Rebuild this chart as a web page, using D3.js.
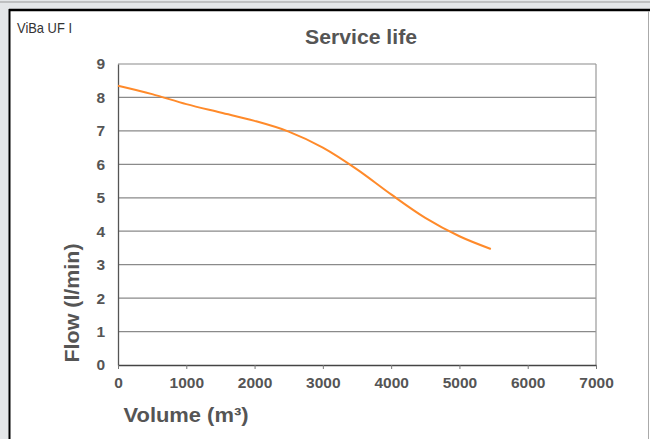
<!DOCTYPE html>
<html>
<head>
<meta charset="utf-8">
<script src="https://cdn.jsdelivr.net/npm/d3@7"></script>
<style>
  body { margin: 0; background: #fff; }
  svg { display: block; }
</style>
</head>
<body>
<svg id="chart" width="650" height="439"></svg>
<script>
// values
const volume = [0, 500, 1000, 1500, 2000, 2500, 3000, 3500, 4000, 4500, 5000, 5460];
const flow = [8.35, 8.1, 7.8, 7.55, 7.3, 6.98, 6.5, 5.85, 5.1, 4.4, 3.85, 3.47];
const xTicks = [0, 1000, 2000, 3000, 4000, 5000, 6000, 7000];
const yTicks = [0, 1, 2, 3, 4, 5, 6, 7, 8, 9];

const svg = d3.select("#chart");
const font = "Liberation Sans, Arial, sans-serif";

// backdrop + frame
svg.append("rect").attr("width", 650).attr("height", 439).attr("fill", "#e4e6e8");
svg.append("rect").attr("x", 10).attr("y", 10).attr("width", 640).attr("height", 429).attr("fill", "#fff");
svg.append("line").attr("x1", 0).attr("x2", 650).attr("y1", 2).attr("y2", 2)
    .attr("stroke", "#999").attr("stroke-width", 1);
svg.append("line").attr("x1", 9).attr("x2", 650).attr("y1", 10).attr("y2", 10)
    .attr("stroke", "#000").attr("stroke-width", 2.5);
svg.append("line").attr("x1", 9.5).attr("x2", 9.5).attr("y1", 9).attr("y2", 439)
    .attr("stroke", "#000").attr("stroke-width", 2);
svg.append("line").attr("x1", 648.5).attr("x2", 648.5).attr("y1", 11).attr("y2", 439)
    .attr("stroke", "#aaa").attr("stroke-width", 1);

const m = {left: 118, right: 596, top: 64, bottom: 365};

const x = d3.scaleLinear().domain([0, 7000]).range([m.left, m.right]);
const y = d3.scaleLinear().domain([0, 9]).range([m.bottom, m.top]);

// gridlines
svg.append("g")
    .selectAll("line")
    .data(yTicks.filter(d => d > 0))
    .join("line")
    .attr("x1", m.left).attr("x2", m.right)
    .attr("y1", d => y(d)).attr("y2", d => y(d))
    .attr("stroke", "#8a8a8a").attr("stroke-width", 1.2);

// right border
svg.append("line").attr("x1", m.right).attr("x2", m.right).attr("y1", m.top).attr("y2", m.bottom)
    .attr("stroke", "#999").attr("stroke-width", 1.2);

// y axis
const yAxis = svg.append("g")
    .attr("transform", `translate(${m.left},0)`)
    .call(d3.axisLeft(y).tickValues(yTicks).tickSize(0).tickPadding(13));
yAxis.select(".domain").attr("stroke", "#555").attr("stroke-width", 1.3);
yAxis.selectAll("text").attr("font-family", font).attr("font-size", 15.5)
    .attr("font-weight", "bold").attr("fill", "#555");

// x axis
const xAxis = svg.append("g")
    .attr("transform", `translate(0,${m.bottom})`)
    .call(d3.axisBottom(x).tickValues(xTicks).tickSize(4).tickSizeOuter(0).tickPadding(8).tickFormat(d3.format("d")));
xAxis.select(".domain").attr("stroke", "#444").attr("stroke-width", 1.4);
xAxis.selectAll(".tick line").attr("stroke", "#777");
xAxis.selectAll("text").attr("font-family", font).attr("font-size", 15.5)
    .attr("font-weight", "bold").attr("fill", "#555");

// curve
const line = d3.line()
    .x((d, i) => x(volume[i]))
    .y(d => y(d))
    .curve(d3.curveCatmullRom);
svg.append("path")
    .datum(flow)
    .attr("d", line)
    .attr("fill", "none")
    .attr("stroke", "#ff8a2a")
    .attr("stroke-width", 2);

// texts
svg.append("text").attr("x", 17).attr("y", 33).text("ViBa UF I")
    .attr("font-family", font).attr("font-size", 15).attr("fill", "#333")
    .attr("textLength", 55).attr("lengthAdjust", "spacingAndGlyphs");
svg.append("text").attr("x", 361).attr("y", 44).attr("text-anchor", "middle").text("Service life")
    .attr("font-family", font).attr("font-size", 20).attr("font-weight", "bold").attr("fill", "#555")
    .attr("textLength", 112).attr("lengthAdjust", "spacingAndGlyphs");
svg.append("text").attr("x", 186).attr("y", 422).attr("text-anchor", "middle").text("Volume (m³)")
    .attr("font-family", font).attr("font-size", 20.5).attr("font-weight", "bold").attr("fill", "#555")
    .attr("textLength", 125).attr("lengthAdjust", "spacingAndGlyphs");
svg.append("text").attr("transform", "translate(79,303) rotate(-90)").attr("text-anchor", "middle")
    .text("Flow (l/min)")
    .attr("font-family", font).attr("font-size", 20.5).attr("font-weight", "bold").attr("fill", "#555")
    .attr("textLength", 119).attr("lengthAdjust", "spacingAndGlyphs");
</script>
</body>
</html>
